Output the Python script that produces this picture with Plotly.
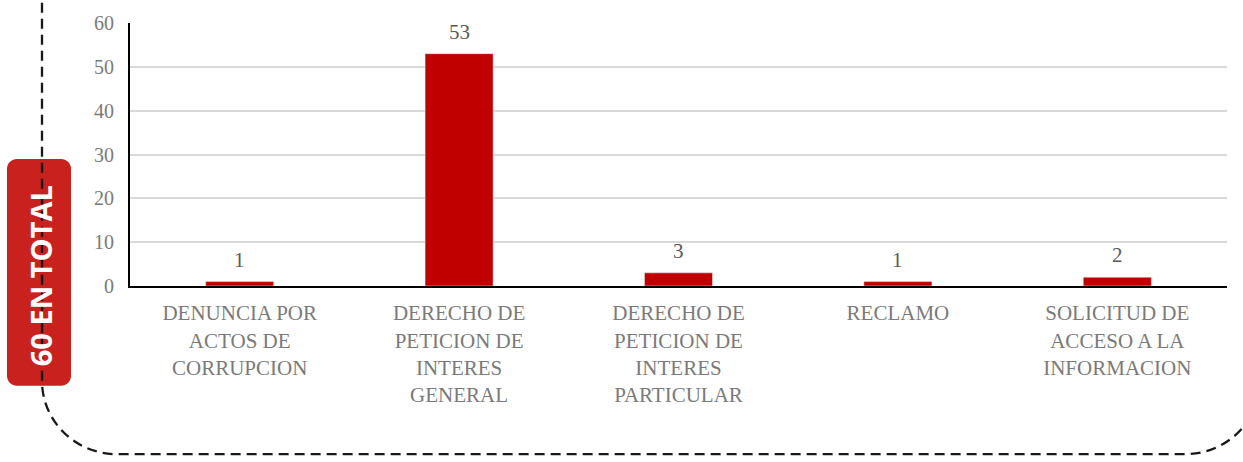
import plotly.graph_objects as go

categories = ["DENUNCIA POR<br>ACTOS DE<br>CORRUPCION",
              "DERECHO DE<br>PETICION DE<br>INTERES<br>GENERAL",
              "DERECHO DE<br>PETICION DE<br>INTERES<br>PARTICULAR",
              "RECLAMO",
              "SOLICITUD DE<br>ACCESO A LA<br>INFORMACION"]
values = [1, 53, 3, 1, 2]
y_ticks = [0, 10, 20, 30, 40, 50, 60]
badge_text = "60 EN TOTAL"

W, H = 1243, 462
ML, MR, MT, MB = 130, 16, 17, 176
PW, PH = W - ML - MR, H - MT - MB

def px(x):
    return (x - ML) / PW

def py(y):
    return (H - MB - y) / PH

def P(x, y):
    return f"{px(x):.5f},{py(y):.5f}"

fig = go.Figure()
fig.add_trace(go.Bar(
    x=categories, y=values, marker_color="#C00000", width=0.31,
))

for c, v in zip(categories, values):
    fig.add_annotation(x=c, y=v, text=str(v), showarrow=False,
                       yanchor="bottom", yshift=8,
                       font=dict(family="Liberation Serif", size=21, color="#595959"))

# Badge (rounded rect)
bx0, bx1, by0, by1, r = 7, 71, 156, 388, 10
k = 0.5523 * r
badge = (f"M {P(bx0 + r, by0)} L {P(bx1 - r, by0)} "
         f"C {P(bx1 - r + k, by0)} {P(bx1, by0 + r - k)} {P(bx1, by0 + r)} "
         f"L {P(bx1, by1 - r)} "
         f"C {P(bx1, by1 - r + k)} {P(bx1 - r + k, by1)} {P(bx1 - r, by1)} "
         f"L {P(bx0 + r, by1)} "
         f"C {P(bx0 + r - k, by1)} {P(bx0, by1 - r + k)} {P(bx0, by1 - r)} "
         f"L {P(bx0, by0 + r)} "
         f"C {P(bx0, by0 + r - k)} {P(bx0 + r - k, by0)} {P(bx0 + r, by0)} Z")
fig.add_shape(type="path", path=badge, xref="paper", yref="paper",
              fillcolor="#C9211E", line=dict(width=0), layer="above")

# Dashed rounded frame
lx, bot, rx, R = 42, 458, 1260, 75
kk = 0.5523 * R
frame = (f"M {P(lx, -20)} L {P(lx, bot - R)} "
         f"C {P(lx, bot - R + kk)} {P(lx + R - kk, bot)} {P(lx + R, bot)} "
         f"L {P(rx - R, bot)} "
         f"C {P(rx - R + kk, bot)} {P(rx, bot - R + kk)} {P(rx, bot - R)} "
         f"L {P(rx, -20)}")
fig.add_shape(type="path", path=frame, xref="paper", yref="paper",
              line=dict(color="black", width=2.3, dash="10px,6px"), layer="above",
              opacity=0.9)

fig.add_annotation(x=px(40), y=py(276), xref="paper", yref="paper",
                   xanchor="center", yanchor="middle",
                   text=f"<b>{badge_text}</b>", textangle=-90, showarrow=False,
                   font=dict(family="Open Sans", size=29, color="white"))

fig.update_layout(
    width=W, height=H,
    margin=dict(l=ML, r=MR, t=MT, b=MB),
    plot_bgcolor="white", paper_bgcolor="white",
    showlegend=False,
    bargap=0.69,
    xaxis=dict(showline=True, linecolor="black", linewidth=2, ticks="",
               tickfont=dict(family="Liberation Serif", size=21, color="#7A7A7A"),
               ticklabelstandoff=7, fixedrange=True),
    yaxis=dict(range=[0, 60], tickvals=y_ticks, showline=True, linecolor="black",
               linewidth=2, showgrid=True, gridcolor="#D9D9D9", gridwidth=2,
               zeroline=False, ticks="", ticklabelstandoff=10,
               tickfont=dict(family="Liberation Serif", size=20, color="#7A7A7A")),
)

fig.write_html("out.html", config={"displayModeBar": False},
               post_script="document.body.style.margin='0px';")
